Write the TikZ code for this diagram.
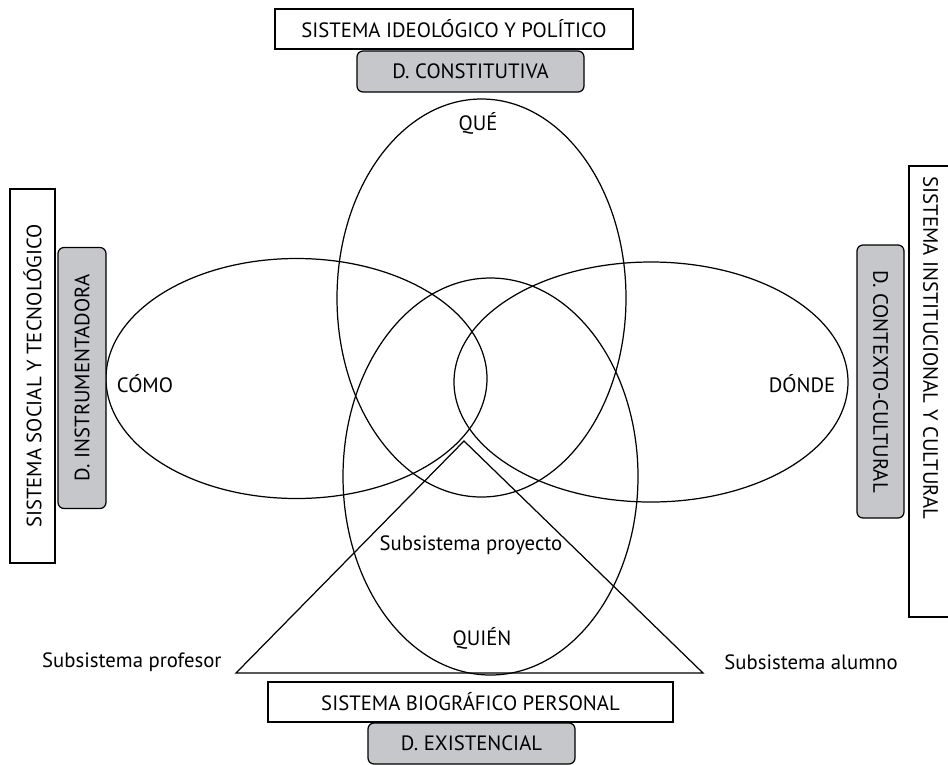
\documentclass[tikz,border=0pt]{standalone}
\usepackage{fontspec}
\setmainfont{PT Sans}
\definecolor{boxgray}{RGB}{198,199,202}

\begin{document}
\begin{tikzpicture}[x=0.2mm, y=-0.2mm, line width=0.7pt,
    every node/.style={font=\fontsize{11.8}{13}\selectfont},
    sysbox/.style={draw, fill=white, inner sep=0pt},
    dimbox/.style={draw, fill=boxgray, rounded corners=1.2mm, inner sep=0pt}]
    \useasboundingbox (0,0) rectangle (948,764);
    % the four dimensions
    \draw (481.5,298) ellipse [x radius=144.5, y radius=199];
    \draw (490.5,476.5) ellipse [x radius=147.5, y radius=198.5];
    \draw (296.5,378.5) ellipse [x radius=190.5, y radius=120];
    \draw (651,382) ellipse [x radius=197, y radius=120];
    % triangle of the subsystems
    \coordinate (apex) at (464,441);
    \coordinate (left) at (236,673);
    \coordinate (right) at (703,673);
    \draw (left) -- (apex) -- (right) -- cycle;
    \node (que) at (478,123) {QUÉ};
    \node (como) at (145,384) {CÓMO};
    \node (donde) at (802,384) {DÓNDE};
    \node (quien) at (482,638) {QUIÉN};
    \node (proyecto) at (471,545) {Subsistema proyecto};
    \node[anchor=east] (profesor) at (228,662) {Subsistema profesor};
    \node[anchor=west] (alumno) at (718,662) {Subsistema alumno};
    % systems and dimensions
    \node[sysbox, minimum width=71.6mm, minimum height=8mm] (ideologico) at (454,29) {SISTEMA IDEOLÓGICO Y POLÍTICO};
    \node[dimbox, minimum width=45.4mm, minimum height=8.2mm] (constitutiva) at (470.5,71.5) {D. CONSTITUTIVA};
    \node[sysbox, rotate=90, minimum width=74.8mm, minimum height=9mm] (social) at (32.5,376) {SISTEMA SOCIAL Y TECNOLÓGICO};
    \node[dimbox, rotate=90, minimum width=52.2mm, minimum height=9.6mm] (instrumentadora) at (82,378) {D. INSTRUMENTADORA};
    \node[sysbox, rotate=-90, minimum width=90.2mm, minimum height=8.6mm] (institucional) at (930.5,391.5) {};
    \node[rotate=-90] (institucionaltext) at (930.5,348) {SISTEMA INSTITUCIONAL Y CULTURAL};
    \node[dimbox, rotate=-90, minimum width=54.6mm, minimum height=9.4mm] (contexto) at (880.5,381.5) {D. CONTEXTO-CULTURAL};
    \node[sysbox, minimum width=81mm, minimum height=8mm] (biografico) at (470.5,702) {SISTEMA BIOGRÁFICO PERSONAL};
    \node[dimbox, minimum width=41.4mm, minimum height=8.2mm] (existencial) at (471.5,743.5) {D. EXISTENCIAL};
\end{tikzpicture}
\end{document}
